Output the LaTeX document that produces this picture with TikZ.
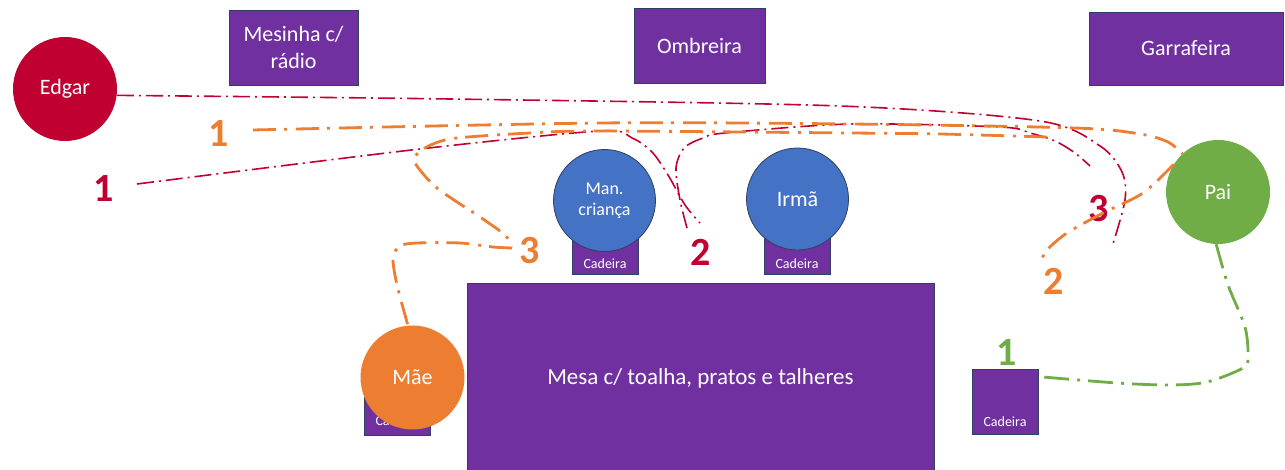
\documentclass[tikz,border=0pt]{standalone}
\usepackage{fontspec}
\setmainfont{Carlito}
\usetikzlibrary{calc}
\definecolor{purp}{HTML}{7030A0}
\definecolor{bord}{HTML}{2F3F60}
\definecolor{redc}{HTML}{C00030}
\definecolor{orac}{HTML}{ED7D31}
\definecolor{grnc}{HTML}{70AD47}
\definecolor{bluc}{HTML}{4472C4}
\begin{document}
\begin{tikzpicture}[x=1pt,y=-1pt,
  furn/.style={fill=purp,draw=bord,line width=0.8pt,text=white,inner sep=0pt,align=center,font=\fontsize{22}{27}\selectfont},
  chair/.style={fill=purp,draw=bord,line width=0.8pt,inner sep=0pt},
  chairtxt/.style={text=white,inner sep=0pt,font=\fontsize{14}{16}\selectfont},
  person/.style={circle,inner sep=0pt,minimum size=104pt,text=white,align=center,font=\fontsize{22}{26}\selectfont},
  kid/.style={person,fill=bluc,draw=bord,line width=0.8pt,minimum size=102pt},
  num/.style={inner sep=0pt,font=\fontsize{40}{40}\selectfont\bfseries},
  redline/.style={draw=redc,line width=1.6pt,dash pattern=on 17pt off 5pt on 2pt off 5pt},
  oraline/.style={draw=orac,line width=2.8pt,dash pattern=on 23pt off 8pt on 3pt off 9pt},
  grnline/.style={draw=grnc,line width=2.8pt,dash pattern=on 25pt off 8pt on 3pt off 8pt}]
\useasboundingbox (0,0) rectangle (1285,470);
% furniture
\node[furn,minimum width=129pt,minimum height=75pt] (mesinha) at (293.5,47.5) {Mesinha c/\\rádio};
\node[furn,minimum width=131pt,minimum height=75pt] (ombreira) at (699.5,45.5) {Ombreira};
\node[furn,minimum width=194pt,minimum height=73pt] (garrafeira) at (1186,48.5) {Garrafeira};
\node[furn,minimum width=467pt,minimum height=190pt,font=\fontsize{23}{27}\selectfont] (mesa) at (700.5,378) {Mesa c/ toalha, pratos e talheres};
% chairs
\node[chair,minimum width=66pt,minimum height=44pt] (cad1) at (605,252) {};
\node[chairtxt] (cad1t) at (605,264) {Cadeira};
\node[chair,minimum width=66pt,minimum height=44pt] (cad2) at (797,252) {};
\node[chairtxt] (cad2t) at (797,264) {Cadeira};
\node[chair,minimum width=66pt,minimum height=65pt] (cad3) at (397,402.5) {};
\node[chairtxt] (cad3t) at (397,421) {Cadeira};
\node[chair,minimum width=66pt,minimum height=65pt] (cad4) at (1005,401.5) {};
\node[chairtxt] (cad4t) at (1005,422) {Cadeira};
% people
\node[person,fill=redc] (edgar) at (65,89) {\raisebox{-2pt}{Edgar}};
\node[kid,font=\fontsize{18}{21}\selectfont] (man) at (604.5,200.5) {Man.\\criança};
\node[kid] (irma) at (797.5,199) {Irmã};
\node[person,fill=grnc] (pai) at (1218,192) {Pai};
\node[person,fill=orac] (mae) at (412.5,377.5) {Mãe};
% numbers
\node[num,text=redc] (r1) at (104,189) {1};
\node[num,text=redc] (r2) at (701,252) {2};
\node[num,text=redc] (r3) at (1099,209) {3};
\node[num,text=orac] (o1) at (219,134) {1};
\node[num,text=orac] (o2) at (1054,281) {2};
\node[num,text=orac] (o3) at (530,251) {3};
\node[num,text=grnc] (g1) at (1007,353) {1};
% free ends
\coordinate (rAe) at (1112,247);
\coordinate (rBs) at (137,184);
\coordinate (rBe) at (700,223);
\coordinate (rCs) at (687,228);
\coordinate (rCe) at (1090,166);
\coordinate (oAs) at (253,130);
\coordinate (oBe) at (1040,263);
\coordinate (oCs) at (1047,137);
\coordinate (oCe) at (512,247);
\coordinate (oDs) at (512,248);
% red paths
\draw[redline] plot[smooth,tension=0.5] coordinates {(edgar.-7) (450,99) (840,106) (1040,121) (1100,146) (1122,172) (1125,200) (rAe)};
\draw[redline] plot[smooth,tension=0.5] coordinates {(rBs) (420,149) (600,131) (632,138) (652,152) (668,175) (685,205) (rBe)};
\draw[redline] plot[smooth,tension=0.5] coordinates {(rCs) (680,200) (676,168) (684,148) (703,138) (725,133) (850,124) (1000,127) (1030,133) (1055,141) (1075,153) (rCe)};
% orange paths
\draw[oraline] plot[smooth,tension=0.5] coordinates {(oAs) (600,123) (850,124) (1075,128) (1140,134) (1168,142) (pai.133)};
\draw[oraline] plot[smooth,tension=0.5] coordinates {(pai.148) (1143,193) (1103,213) (1067,233) (1047,250) (oBe)};
\draw[oraline] plot[smooth,tension=0.5] coordinates {(oCs) (940,134) (850,133) (600,131) (530,133) (457,138) (433,144) (418,153) (415,163) (437,188) (480,217) (505,235) (oCe)};
\draw[oraline] plot[smooth,tension=0.5] coordinates {(oDs) (493,247) (460,243) (417,243) (400,246) (393,258) (397,285) (mae.95)};
% green path
\draw[grnline] plot[smooth,tension=0.5] coordinates {(pai.-92) (1228,285) (1245,327) (1248,357) (1243,368) (1207,382) (1170,385) (1117,383) ($(cad4.north east)+(0,8)$)};
\end{tikzpicture}
\end{document}
